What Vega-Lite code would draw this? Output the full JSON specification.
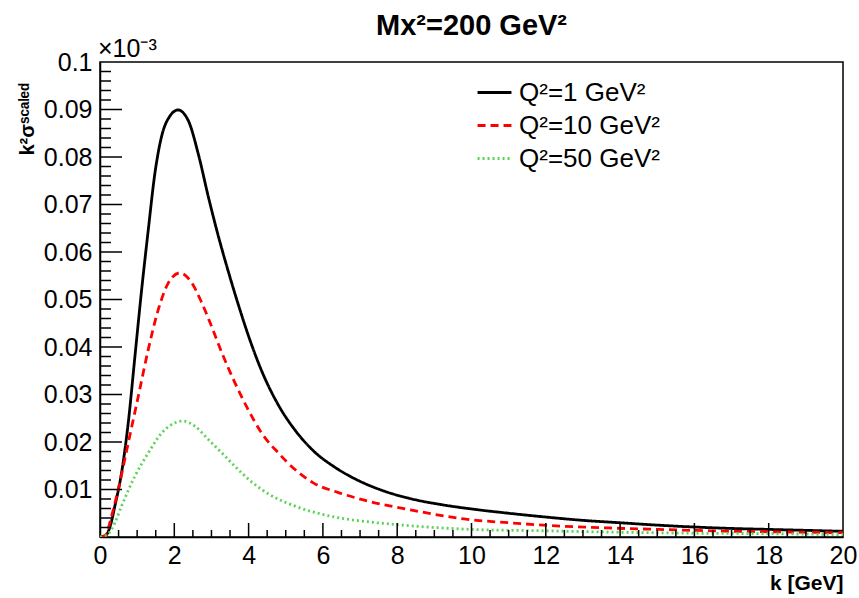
{
  "$schema": "https://vega.github.io/schema/vega-lite/v6.json",
  "autosize": "none",
  "width": 743,
  "height": 475,
  "padding": {"left": 100, "top": 62, "right": 16, "bottom": 61},
  "background": "white",
  "title": {"text": "Mx²=200 GeV²", "font": "Liberation Sans", "fontSize": 29, "fontWeight": "bold", "anchor": "middle", "frame": "group", "offset": -4, "color": "black"},
  "config": {
    "view": {"stroke": "black", "strokeWidth": 1.5, "fill": null},
    "axis": {"zindex": 1, "grid": false, "domainColor": "black", "domainWidth": 1.5, "tickColor": "black", "tickWidth": 1.5, "labelColor": "black", "labelFont": "Liberation Sans", "labelFontSize": 25, "titleFont": "Liberation Sans", "titleColor": "black"}
  },
  "datasets": {
    "curves": [
      {"k": 0, "v": 0, "s": "Q²=1 GeV²"},
      {"k": 0.15, "v": 0.0003, "s": "Q²=1 GeV²"},
      {"k": 0.3, "v": 0.003, "s": "Q²=1 GeV²"},
      {"k": 0.4, "v": 0.0065, "s": "Q²=1 GeV²"},
      {"k": 0.58, "v": 0.0135, "s": "Q²=1 GeV²"},
      {"k": 0.76, "v": 0.024, "s": "Q²=1 GeV²"},
      {"k": 0.94, "v": 0.038, "s": "Q²=1 GeV²"},
      {"k": 1.12, "v": 0.052, "s": "Q²=1 GeV²"},
      {"k": 1.3, "v": 0.0647, "s": "Q²=1 GeV²"},
      {"k": 1.48, "v": 0.0767, "s": "Q²=1 GeV²"},
      {"k": 1.66, "v": 0.0844, "s": "Q²=1 GeV²"},
      {"k": 1.88, "v": 0.0886, "s": "Q²=1 GeV²"},
      {"k": 2.1, "v": 0.0899, "s": "Q²=1 GeV²"},
      {"k": 2.38, "v": 0.0876, "s": "Q²=1 GeV²"},
      {"k": 2.65, "v": 0.0805, "s": "Q²=1 GeV²"},
      {"k": 2.92, "v": 0.0715, "s": "Q²=1 GeV²"},
      {"k": 3.18, "v": 0.0635, "s": "Q²=1 GeV²"},
      {"k": 3.45, "v": 0.0560, "s": "Q²=1 GeV²"},
      {"k": 3.72, "v": 0.0490, "s": "Q²=1 GeV²"},
      {"k": 3.99, "v": 0.0425, "s": "Q²=1 GeV²"},
      {"k": 4.35, "v": 0.0350, "s": "Q²=1 GeV²"},
      {"k": 4.8, "v": 0.0278, "s": "Q²=1 GeV²"},
      {"k": 5.25, "v": 0.0225, "s": "Q²=1 GeV²"},
      {"k": 5.75, "v": 0.0181, "s": "Q²=1 GeV²"},
      {"k": 6.3, "v": 0.0148, "s": "Q²=1 GeV²"},
      {"k": 6.9, "v": 0.0121, "s": "Q²=1 GeV²"},
      {"k": 7.6, "v": 0.0098, "s": "Q²=1 GeV²"},
      {"k": 8.4, "v": 0.0080, "s": "Q²=1 GeV²"},
      {"k": 9.2, "v": 0.0068, "s": "Q²=1 GeV²"},
      {"k": 10, "v": 0.0059, "s": "Q²=1 GeV²"},
      {"k": 11, "v": 0.005, "s": "Q²=1 GeV²"},
      {"k": 12, "v": 0.0042, "s": "Q²=1 GeV²"},
      {"k": 13, "v": 0.0035, "s": "Q²=1 GeV²"},
      {"k": 14, "v": 0.003, "s": "Q²=1 GeV²"},
      {"k": 15, "v": 0.0025, "s": "Q²=1 GeV²"},
      {"k": 16, "v": 0.0021, "s": "Q²=1 GeV²"},
      {"k": 17, "v": 0.0018, "s": "Q²=1 GeV²"},
      {"k": 18, "v": 0.0016, "s": "Q²=1 GeV²"},
      {"k": 19, "v": 0.0014, "s": "Q²=1 GeV²"},
      {"k": 20, "v": 0.0012, "s": "Q²=1 GeV²"},
      {"k": 0, "v": 0, "s": "Q²=10 GeV²"},
      {"k": 0.15, "v": 0.0004, "s": "Q²=10 GeV²"},
      {"k": 0.31, "v": 0.0044, "s": "Q²=10 GeV²"},
      {"k": 0.49, "v": 0.01, "s": "Q²=10 GeV²"},
      {"k": 0.76, "v": 0.0198, "s": "Q²=10 GeV²"},
      {"k": 1.03, "v": 0.0296, "s": "Q²=10 GeV²"},
      {"k": 1.3, "v": 0.0395, "s": "Q²=10 GeV²"},
      {"k": 1.57, "v": 0.0479, "s": "Q²=10 GeV²"},
      {"k": 1.84, "v": 0.0535, "s": "Q²=10 GeV²"},
      {"k": 2.15, "v": 0.0556, "s": "Q²=10 GeV²"},
      {"k": 2.47, "v": 0.0535, "s": "Q²=10 GeV²"},
      {"k": 2.74, "v": 0.0493, "s": "Q²=10 GeV²"},
      {"k": 3.0, "v": 0.0444, "s": "Q²=10 GeV²"},
      {"k": 3.28, "v": 0.0388, "s": "Q²=10 GeV²"},
      {"k": 3.63, "v": 0.0325, "s": "Q²=10 GeV²"},
      {"k": 3.99, "v": 0.0268, "s": "Q²=10 GeV²"},
      {"k": 4.35, "v": 0.0219, "s": "Q²=10 GeV²"},
      {"k": 4.8, "v": 0.0177, "s": "Q²=10 GeV²"},
      {"k": 5.25, "v": 0.0142, "s": "Q²=10 GeV²"},
      {"k": 5.74, "v": 0.0114, "s": "Q²=10 GeV²"},
      {"k": 6.4, "v": 0.0094, "s": "Q²=10 GeV²"},
      {"k": 7.09, "v": 0.0078, "s": "Q²=10 GeV²"},
      {"k": 8.43, "v": 0.0056, "s": "Q²=10 GeV²"},
      {"k": 9.8, "v": 0.0038, "s": "Q²=10 GeV²"},
      {"k": 11, "v": 0.0030, "s": "Q²=10 GeV²"},
      {"k": 12.4, "v": 0.0023, "s": "Q²=10 GeV²"},
      {"k": 13.7, "v": 0.0019, "s": "Q²=10 GeV²"},
      {"k": 15, "v": 0.0016, "s": "Q²=10 GeV²"},
      {"k": 16.5, "v": 0.0013, "s": "Q²=10 GeV²"},
      {"k": 18, "v": 0.0011, "s": "Q²=10 GeV²"},
      {"k": 20, "v": 0.0009, "s": "Q²=10 GeV²"},
      {"k": 0, "v": 0, "s": "Q²=50 GeV²"},
      {"k": 0.2, "v": 0.0005, "s": "Q²=50 GeV²"},
      {"k": 0.4, "v": 0.003, "s": "Q²=50 GeV²"},
      {"k": 0.58, "v": 0.0065, "s": "Q²=50 GeV²"},
      {"k": 0.94, "v": 0.0128, "s": "Q²=50 GeV²"},
      {"k": 1.3, "v": 0.0177, "s": "Q²=50 GeV²"},
      {"k": 1.66, "v": 0.0219, "s": "Q²=50 GeV²"},
      {"k": 1.93, "v": 0.0237, "s": "Q²=50 GeV²"},
      {"k": 2.24, "v": 0.0244, "s": "Q²=50 GeV²"},
      {"k": 2.56, "v": 0.0233, "s": "Q²=50 GeV²"},
      {"k": 2.92, "v": 0.0205, "s": "Q²=50 GeV²"},
      {"k": 3.28, "v": 0.0177, "s": "Q²=50 GeV²"},
      {"k": 3.63, "v": 0.0149, "s": "Q²=50 GeV²"},
      {"k": 4.08, "v": 0.0116, "s": "Q²=50 GeV²"},
      {"k": 4.53, "v": 0.0091, "s": "Q²=50 GeV²"},
      {"k": 5.25, "v": 0.0065, "s": "Q²=50 GeV²"},
      {"k": 6.19, "v": 0.0044, "s": "Q²=50 GeV²"},
      {"k": 7, "v": 0.0034, "s": "Q²=50 GeV²"},
      {"k": 8, "v": 0.0026, "s": "Q²=50 GeV²"},
      {"k": 9, "v": 0.002, "s": "Q²=50 GeV²"},
      {"k": 10, "v": 0.0016, "s": "Q²=50 GeV²"},
      {"k": 12, "v": 0.0013, "s": "Q²=50 GeV²"},
      {"k": 14, "v": 0.001, "s": "Q²=50 GeV²"},
      {"k": 16, "v": 0.0008, "s": "Q²=50 GeV²"},
      {"k": 18, "v": 0.0007, "s": "Q²=50 GeV²"},
      {"k": 20, "v": 0.0005, "s": "Q²=50 GeV²"}
    ],
    "xminor": [{"t": 0.5},{"t": 1},{"t": 1.5},{"t": 2.5},{"t": 3},{"t": 3.5},{"t": 4.5},{"t": 5},{"t": 5.5},{"t": 6.5},{"t": 7},{"t": 7.5},{"t": 8.5},{"t": 9},{"t": 9.5},{"t": 10.5},{"t": 11},{"t": 11.5},{"t": 12.5},{"t": 13},{"t": 13.5},{"t": 14.5},{"t": 15},{"t": 15.5},{"t": 16.5},{"t": 17},{"t": 17.5},{"t": 18.5},{"t": 19},{"t": 19.5}],
    "xmajor": [{"t": 2},{"t": 4},{"t": 6},{"t": 8},{"t": 10},{"t": 12},{"t": 14},{"t": 16},{"t": 18}],
    "yminor": [{"t": 0.002},{"t": 0.004},{"t": 0.006},{"t": 0.008},{"t": 0.012},{"t": 0.014},{"t": 0.016},{"t": 0.018},{"t": 0.022},{"t": 0.024},{"t": 0.026},{"t": 0.028},{"t": 0.032},{"t": 0.034},{"t": 0.036},{"t": 0.038},{"t": 0.042},{"t": 0.044},{"t": 0.046},{"t": 0.048},{"t": 0.052},{"t": 0.054},{"t": 0.056},{"t": 0.058},{"t": 0.062},{"t": 0.064},{"t": 0.066},{"t": 0.068},{"t": 0.072},{"t": 0.074},{"t": 0.076},{"t": 0.078},{"t": 0.082},{"t": 0.084},{"t": 0.086},{"t": 0.088},{"t": 0.092},{"t": 0.094},{"t": 0.096},{"t": 0.098}],
    "ymajor": [{"t": 0.01},{"t": 0.02},{"t": 0.03},{"t": 0.04},{"t": 0.05},{"t": 0.06},{"t": 0.07},{"t": 0.08},{"t": 0.09}],
    "note": [{"label": "×10⁻³"}]
  },
  "layer": [
    {
      "data": {"name": "curves"},
      "mark": {"type": "line", "interpolate": "monotone", "strokeWidth": 2.8, "strokeCap": "butt", "clip": true},
      "encoding": {
        "x": {
          "field": "k", "type": "quantitative",
          "scale": {"domain": [0, 20], "nice": false, "zero": false},
          "axis": {
            "orient": "bottom", "ticks": false,
            "title": "k [GeV]", "titleFontSize": 21, "titleFontWeight": "bold",
            "titleAnchor": "end", "titleAlign": "right", "titleBaseline": "alphabetic", "titleX": 743, "titleY": 52,
            "values": [0,2,4,6,8,10,12,14,16,18,20],
            "labelPadding": 6, "labelFlush": false, "labelOverlap": false
          }
        },
        "y": {
          "field": "v", "type": "quantitative",
          "scale": {"domain": [0, 0.1], "nice": false, "zero": false},
          "axis": {
            "orient": "left", "ticks": false,
            "title": "k²σˢᶜᵃˡᵉᵈ", "titleFontSize": 20, "titleFontWeight": "bold",
            "titleAngle": -90, "titleAlign": "left", "titleBaseline": "alphabetic", "titleX": -67, "titleY": 93,
            "values": [0.01,0.02,0.03,0.04,0.05,0.06,0.07,0.08,0.09,0.1],
            "format": ".2~f",
            "labelPadding": 8, "labelFlush": false, "labelOverlap": false
          }
        },
        "color": {
          "field": "s", "type": "nominal",
          "scale": {"domain": ["Q²=1 GeV²", "Q²=10 GeV²", "Q²=50 GeV²"], "range": ["#000000", "#ff0000", "#59d454"]},
          "legend": {
            "title": null, "orient": "none", "legendX": 376, "legendY": 12,
            "labelFont": "Liberation Sans", "labelFontSize": 26, "labelColor": "black", "labelLimit": 400,
            "symbolType": "stroke", "symbolSize": 1150, "symbolStrokeWidth": 2.8, "rowPadding": 1, "labelOffset": 6
          }
        },
        "strokeDash": {
          "field": "s", "type": "nominal",
          "scale": {"domain": ["Q²=1 GeV²", "Q²=10 GeV²", "Q²=50 GeV²"], "range": [[1, 0], [8, 5], [2, 3]]},
          "legend": null
        }
      }
    },
    {
      "data": {"name": "xminor"},
      "mark": {"type": "tick", "orient": "vertical", "size": 14, "thickness": 1.5, "color": "black", "opacity": 1, "clip": true},
      "encoding": {"x": {"field": "t", "type": "quantitative"}, "y": {"datum": 0, "type": "quantitative"}}
    },
    {
      "data": {"name": "xmajor"},
      "mark": {"type": "tick", "orient": "vertical", "size": 28, "thickness": 1.5, "color": "black", "opacity": 1, "clip": true},
      "encoding": {"x": {"field": "t", "type": "quantitative"}, "y": {"datum": 0, "type": "quantitative"}}
    },
    {
      "data": {"name": "yminor"},
      "mark": {"type": "tick", "orient": "horizontal", "size": 22, "thickness": 1.5, "color": "black", "opacity": 1, "clip": true},
      "encoding": {"y": {"field": "t", "type": "quantitative"}, "x": {"datum": 0, "type": "quantitative"}}
    },
    {
      "data": {"name": "ymajor"},
      "mark": {"type": "tick", "orient": "horizontal", "size": 44, "thickness": 1.5, "color": "black", "opacity": 1, "clip": true},
      "encoding": {"y": {"field": "t", "type": "quantitative"}, "x": {"datum": 0, "type": "quantitative"}}
    },
    {
      "data": {"name": "note"},
      "mark": {"type": "text", "font": "Liberation Sans", "fontSize": 25, "align": "left", "baseline": "alphabetic", "dy": -5, "dx": -2, "color": "black"},
      "encoding": {
        "x": {"datum": 0, "type": "quantitative"},
        "y": {"datum": 0.1, "type": "quantitative"},
        "text": {"field": "label"}
      }
    }
  ]
}
